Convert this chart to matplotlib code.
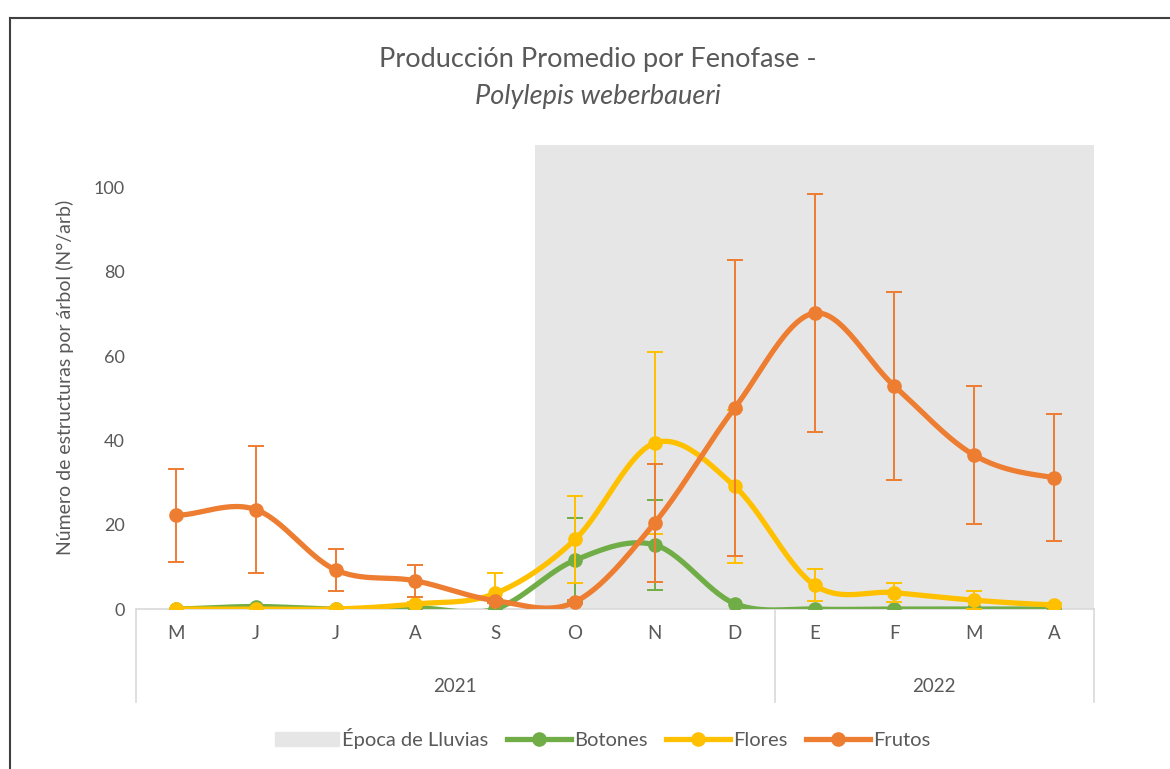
import numpy as np
import matplotlib.pyplot as plt
from matplotlib.lines import Line2D
from matplotlib.patches import Patch

# Data
months = ['M', 'J', 'J', 'A', 'S', 'O', 'N', 'D', 'E', 'F', 'M', 'A']
years = ['2021', '2022']
year_split = 7.5   # boundary between D and E
rain_start = 4.5   # rainy season begins between S and O

botones = [0, 0.6, 0, 0.3, 0, 11.6, 15.2, 1.3, 0, 0, 0, 0]
botones_err = [0, 0, 0, 0, 0, 10.0, 10.7, 0, 0, 0, 0, 0]
flores = [0, 0, 0, 1.2, 3.7, 16.5, 39.4, 29.1, 5.7, 3.9, 2.1, 1.0]
flores_err = [0, 0, 0, 0.5, 4.8, 10.3, 21.6, 18.2, 3.9, 2.2, 2.2, 0.5]
frutos = [22.2, 23.6, 9.3, 6.7, 2.0, 1.7, 20.5, 47.7, 70.2, 52.9, 36.5, 31.2]
frutos_err = [11.1, 15.0, 5.0, 3.8, 0.5, 0.5, 14.0, 35.0, 28.3, 22.4, 16.4, 15.0]

c_bot = '#70AD47'
c_flo = '#FFC000'
c_fru = '#ED7D31'
c_gray = '#E7E6E6'
c_text = '#595959'

plt.rcParams['font.family'] = ['Lato', 'DejaVu Sans']


def smooth(xs, ys, n=30):
    # Catmull-Rom curve through the points (Excel "smoothed line" look)
    xs = np.asarray(xs, float)
    ys = np.asarray(ys, float)
    px = np.concatenate([[2 * xs[0] - xs[1]], xs, [2 * xs[-1] - xs[-2]]])
    py = np.concatenate([[ys[0]], ys, [ys[-1]]])
    ox, oy = [], []
    t = np.linspace(0, 1, n)
    for i in range(1, len(px) - 2):
        p0, p1, p2, p3 = py[i - 1], py[i], py[i + 1], py[i + 2]
        x1, x2 = px[i], px[i + 1]
        c1 = p1 + (p2 - p0) / 6
        c2 = p2 - (p3 - p1) / 6
        yy = (1 - t) ** 3 * p1 + 3 * (1 - t) ** 2 * t * c1 + 3 * (1 - t) * t ** 2 * c2 + t ** 3 * p2
        ox.append(x1 + (x2 - x1) * t)
        oy.append(yy)
    return np.concatenate(ox), np.concatenate(oy)


fig = plt.figure(figsize=(11.7, 7.69), dpi=100)
ax = fig.add_axes([0.1162, 0.208, 0.8188, 0.603])

x = np.arange(len(months))
ax.axvspan(rain_start, len(months) - 0.5, color=c_gray, zorder=0, lw=0)

for vals, err, col, z in [(botones, botones_err, c_bot, 3),
                          (flores, flores_err, c_flo, 4),
                          (frutos, frutos_err, c_fru, 5)]:
    e = np.array(err)
    mask = e > 0
    ax.errorbar(x[mask], np.array(vals)[mask], yerr=e[mask], fmt='none',
                ecolor=col, elinewidth=1.4, capsize=6, capthick=1.4, zorder=z)
    sx, sy = smooth(x, vals)
    ax.plot(sx, sy, color=col, lw=3.8, solid_capstyle='round', zorder=z)
    ax.plot(x, vals, 'o', color=col, ms=9.5, zorder=z)

ax.set_xlim(-0.5, len(months) - 0.5)
ax.set_ylim(0, 110)
ax.set_yticks(np.arange(0, 101, 20))
ax.tick_params(axis='y', length=0, labelsize=13, labelcolor=c_text, pad=8)
ax.set_xticks([])
for s in ['top', 'right', 'left']:
    ax.spines[s].set_visible(False)
ax.spines['bottom'].set_color('#D9D9D9')
ax.spines['bottom'].set_linewidth(1.2)
ax.set_ylabel('Número de estructuras por árbol (N°/arb)', fontsize=14,
              color=c_text, labelpad=14)

# two-level category axis
trans = ax.get_xaxis_transform()
for i, m in enumerate(months):
    ax.text(i, -0.053, m, transform=trans, ha='center', va='center',
            fontsize=13.5, color=c_text)
for xv in [-0.5, year_split, len(months) - 0.5]:
    ax.add_line(Line2D([xv, xv], [0, -0.2], transform=trans, color='#D9D9D9',
                       lw=1.2, clip_on=False))
ax.text((-0.5 + year_split) / 2, -0.168, years[0], transform=trans,
        ha='center', va='center', fontsize=13.5, color=c_text)
ax.text((year_split + len(months) - 0.5) / 2, -0.168, years[1], transform=trans,
        ha='center', va='center', fontsize=13.5, color=c_text)

# title
fig.text(0.511, 0.922, 'Producción Promedio por Fenofase -', ha='center',
         va='center', fontsize=19.5, color=c_text)
fig.text(0.511, 0.875, 'Polylepis weberbaueri', ha='center', va='center',
         fontsize=19.5, color=c_text, style='italic')

# legend
handles = [Patch(color=c_gray, label='Época de Lluvias'),
           Line2D([], [], color=c_bot, lw=3.8, marker='o', ms=9.5, label='Botones'),
           Line2D([], [], color=c_flo, lw=3.8, marker='o', ms=9.5, label='Flores'),
           Line2D([], [], color=c_fru, lw=3.8, marker='o', ms=9.5, label='Frutos')]
fig.legend(handles=handles, loc='center', bbox_to_anchor=(0.515, 0.04), ncol=4,
           frameon=False, fontsize=14.5, labelcolor=c_text, handlelength=3.2,
           handletextpad=0.15, columnspacing=0.9)

# outer chart border (left and top visible)
fig.add_artist(Line2D([10 / 1170, 10 / 1170], [0, 1 - 18 / 769],
                      transform=fig.transFigure, color='#404040', lw=1.5))
fig.add_artist(Line2D([10 / 1170, 1], [1 - 18 / 769, 1 - 18 / 769],
                      transform=fig.transFigure, color='#404040', lw=1.5))

fig.savefig('out.png', dpi=100)
